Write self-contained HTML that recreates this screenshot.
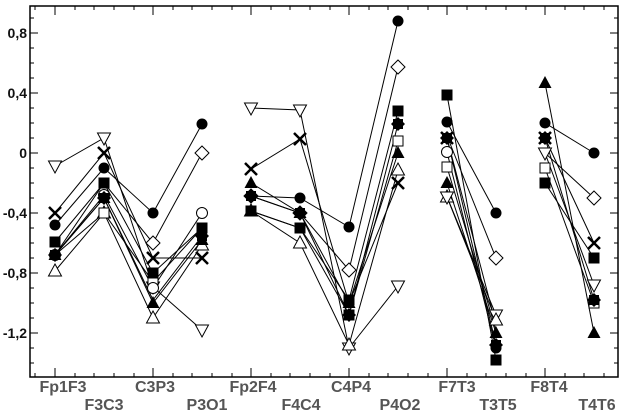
<!DOCTYPE html>
<html><head><meta charset="utf-8"><style>
html,body{margin:0;padding:0;background:#fff;}
svg{display:block;}
text{font-family:"Liberation Sans",sans-serif;font-weight:bold;}
</style></head><body>
<svg width="625" height="411" viewBox="0 0 625 411" xmlns="http://www.w3.org/2000/svg">
<defs>
<symbol id="fc" overflow="visible"><circle r="5.5" fill="#000"/></symbol>
<symbol id="oc" overflow="visible"><circle r="5.5" fill="#fff" stroke="#000"/></symbol>
<symbol id="fs" overflow="visible"><rect x="-5.5" y="-5.5" width="11" height="11" fill="#000"/></symbol>
<symbol id="os" overflow="visible"><rect x="-5" y="-5" width="10" height="10" fill="#fff" stroke="#000"/></symbol>
<symbol id="ft" overflow="visible"><path d="M0,-7 L6.5,5 L-6.5,5Z" fill="#000"/></symbol>
<symbol id="ot" overflow="visible"><path d="M0,-7 L6.5,5 L-6.5,5Z" fill="#fff" stroke="#000"/></symbol>
<symbol id="od" overflow="visible"><path d="M0,7 L6.5,-5 L-6.5,-5Z" fill="#fff" stroke="#000"/></symbol>
<symbol id="x" overflow="visible"><path d="M-6,-6 L6,6 M6,-6 L-6,6" stroke="#000" stroke-width="2.5"/></symbol>
<symbol id="odi" overflow="visible"><path d="M0,-7 L7,0 L0,7 L-7,0Z" fill="#fff" stroke="#000"/></symbol>
<symbol id="st" overflow="visible"><path d="M0,-7 L7,0 L0,7 L-7,0Z" fill="#000"/><rect x="-5" y="-5" width="10" height="10" fill="#000"/></symbol>
</defs>
<!-- frame -->
<g stroke="#000" fill="none" stroke-width="1.5">
<rect x="30" y="6" width="588" height="371"/>
</g>
<g stroke="#000" stroke-width="1">
<!-- left ticks -->
<path d="M30,33h8M30,93h8M30,153h8M30,213h8M30,273h8M30,333h8
M30,18h4M30,48h4M30,63h4M30,78h4M30,108h4M30,123h4M30,138h4M30,168h4M30,183h4M30,198h4M30,228h4M30,243h4M30,258h4M30,288h4M30,303h4M30,318h4M30,348h4M30,363h4"/>
<path d="M618,33h-8M618,93h-8M618,153h-8M618,213h-8M618,273h-8M618,333h-8
M618,18h-4M618,48h-4M618,63h-4M618,78h-4M618,108h-4M618,123h-4M618,138h-4M618,168h-4M618,183h-4M618,198h-4M618,228h-4M618,243h-4M618,258h-4M618,288h-4M618,303h-4M618,318h-4M618,348h-4M618,363h-4"/>
<path d="M55,377v-9M153,377v-9M251,377v-9M349,377v-9M447,377v-9M545,377v-9
M55,6v9M153,6v9M251,6v9M349,6v9M447,6v9M545,6v9
M35,377v-4M75,377v-4M94,377v-4M114,377v-4M134,377v-4M173,377v-4M192,377v-4M212,377v-4M232,377v-4M271,377v-4M290,377v-4M310,377v-4M330,377v-4M369,377v-4M388,377v-4M408,377v-4M428,377v-4M467,377v-4M486,377v-4M506,377v-4M526,377v-4M565,377v-4M584,377v-4M604,377v-4
M35,6v4M75,6v4M94,6v4M114,6v4M134,6v4M173,6v4M192,6v4M212,6v4M232,6v4M271,6v4M290,6v4M310,6v4M330,6v4M369,6v4M388,6v4M408,6v4M428,6v4M467,6v4M486,6v4M506,6v4M526,6v4M565,6v4M584,6v4M604,6v4"/>
</g>
<g font-size="14" fill="#111" text-anchor="end">
<text x="27" y="38">0,8</text><text x="27" y="98">0,4</text><text x="27" y="158">0</text>
<text x="27" y="218">-0,4</text><text x="27" y="278">-0,8</text><text x="27" y="338">-1,2</text>
</g>
<g font-size="16" fill="#555" text-anchor="middle">
<text x="63" y="392">Fp1F3</text><text x="104" y="410">F3C3</text>
<text x="155" y="392">C3P3</text><text x="207" y="410">P3O1</text>
<text x="253" y="392">Fp2F4</text><text x="301" y="410">F4C4</text>
<text x="351" y="392">C4P4</text><text x="400" y="410">P4O2</text>
<text x="457" y="392">F7T3</text><text x="498" y="410">T3T5</text>
<text x="549" y="392">F8T4</text><text x="597" y="410">T4T6</text>
</g>
<g stroke="#000" stroke-width="1" fill="none">
<polyline points="55,166 104,138 153,287 202,330"/>
<polyline points="55,213 104,153 153,258 202,258"/>
<polyline points="55,225 104,168 153,213 202,124"/>
<polyline points="55,255 104,183 153,243 202,153"/>
<polyline points="55,242 104,183 153,273 202,228"/>
<polyline points="55,255 104,198 153,303 202,240"/>
<polyline points="55,271 104,213 153,318 202,245"/>
<polyline points="55,255 104,195 153,288 202,213"/>
<polyline points="55,255 104,213 153,282 202,228"/>
<polyline points="55,255 104,198 153,300 202,236"/>
<polyline points="251,108 300,110 349,348 398,286"/>
<polyline points="251,169 300,139 349,303 398,183"/>
<polyline points="251,183 300,213 349,303 398,153"/>
<polyline points="251,196 300,198 349,227 398,21"/>
<polyline points="251,211 300,228 349,300 398,111"/>
<polyline points="251,211 300,243 349,345 398,170"/>
<polyline points="251,196 300,213 349,270 398,67"/>
<polyline points="251,211 300,228 349,315 398,141"/>
<polyline points="251,196 300,213 349,315 398,124"/>
<polyline points="447,95 496,360"/><polyline points="447,122 496,213"/><polyline points="447,136 496,258"/>
<polyline points="447,138 496,345"/><polyline points="447,152 496,348"/><polyline points="447,167 496,330"/>
<polyline points="447,183 496,333"/><polyline points="447,197 496,315"/><polyline points="447,197 496,320"/>
<polyline points="447,138 496,325"/>
<polyline points="545,83 594,333"/><polyline points="545,123 594,153"/><polyline points="545,153 594,198"/>
<polyline points="545,138 594,300"/><polyline points="545,153 594,285"/><polyline points="545,138 594,243"/>
<polyline points="545,168 594,303"/><polyline points="545,183 594,258"/>
</g>
<g>
<use href="#od" x="55" y="166"/><use href="#od" x="104" y="138"/><use href="#od" x="153" y="287"/><use href="#od" x="202" y="330"/>
<use href="#ot" x="55" y="271"/><use href="#ot" x="104" y="213"/><use href="#ot" x="153" y="318"/><use href="#ot" x="202" y="245"/>
<use href="#os" x="104" y="213"/><use href="#os" x="153" y="282"/><use href="#os" x="202" y="228"/>
<use href="#oc" x="55" y="255"/><use href="#oc" x="104" y="195"/><use href="#oc" x="153" y="288"/><use href="#oc" x="202" y="213"/>
<use href="#odi" x="153" y="243"/><use href="#odi" x="202" y="153"/>
<use href="#st" x="55" y="255"/><use href="#st" x="104" y="198"/><use href="#st" x="202" y="236"/>
<use href="#ft" x="55" y="255"/><use href="#ft" x="104" y="198"/><use href="#ft" x="153" y="303"/><use href="#ft" x="202" y="240"/>
<use href="#fs" x="55" y="242"/><use href="#fs" x="104" y="183"/><use href="#fs" x="153" y="273"/><use href="#fs" x="202" y="228"/>
<use href="#fc" x="55" y="225"/><use href="#fc" x="104" y="168"/><use href="#fc" x="153" y="213"/><use href="#fc" x="202" y="124"/>
<use href="#x" x="55" y="213"/><use href="#x" x="104" y="153"/><use href="#x" x="153" y="258"/><use href="#x" x="202" y="258"/>

<use href="#od" x="251" y="108"/><use href="#od" x="300" y="110"/><use href="#od" x="349" y="348"/><use href="#od" x="398" y="286"/>
<use href="#ot" x="251" y="211"/><use href="#ot" x="300" y="243"/><use href="#ot" x="349" y="345"/><use href="#ot" x="398" y="170"/>
<use href="#odi" x="251" y="196"/><use href="#odi" x="300" y="213"/><use href="#odi" x="349" y="270"/><use href="#odi" x="398" y="67"/>
<use href="#os" x="349" y="315"/><use href="#os" x="398" y="141"/>
<use href="#st" x="251" y="196"/><use href="#st" x="300" y="213"/><use href="#st" x="349" y="315"/><use href="#st" x="398" y="124"/>
<use href="#ft" x="251" y="183"/><use href="#ft" x="300" y="213"/><use href="#ft" x="349" y="303"/><use href="#ft" x="398" y="153"/>
<use href="#fs" x="251" y="211"/><use href="#fs" x="300" y="228"/><use href="#fs" x="349" y="300"/><use href="#fs" x="398" y="111"/>
<use href="#fc" x="251" y="196"/><use href="#fc" x="300" y="198"/><use href="#fc" x="349" y="227"/><use href="#fc" x="398" y="21"/>
<use href="#x" x="251" y="169"/><use href="#x" x="300" y="139"/><use href="#x" x="398" y="183"/>

<use href="#ot" x="447" y="197"/><use href="#od" x="447" y="197"/><use href="#os" x="447" y="167"/><use href="#oc" x="447" y="152"/>
<use href="#ft" x="447" y="183"/><use href="#st" x="447" y="138"/><use href="#x" x="447" y="138"/><use href="#fc" x="447" y="122"/><use href="#fs" x="447" y="95"/>
<use href="#od" x="496" y="315"/><use href="#ot" x="496" y="320"/><use href="#odi" x="496" y="258"/><use href="#fc" x="496" y="213"/>
<use href="#ft" x="496" y="333"/><use href="#st" x="496" y="345"/><use href="#fc" x="496" y="348"/><use href="#fs" x="496" y="360"/>

<use href="#od" x="545" y="153"/><use href="#os" x="545" y="168"/><use href="#fs" x="545" y="183"/><use href="#st" x="545" y="138"/><use href="#x" x="545" y="138"/>
<use href="#fc" x="545" y="123"/><use href="#ft" x="545" y="83"/>
<use href="#fc" x="594" y="153"/><use href="#odi" x="594" y="198"/><use href="#x" x="594" y="243"/><use href="#fs" x="594" y="258"/>
<use href="#od" x="594" y="285"/><use href="#os" x="594" y="303"/><use href="#st" x="594" y="300"/><use href="#ft" x="594" y="333"/>
</g>
</svg>
</body></html>
